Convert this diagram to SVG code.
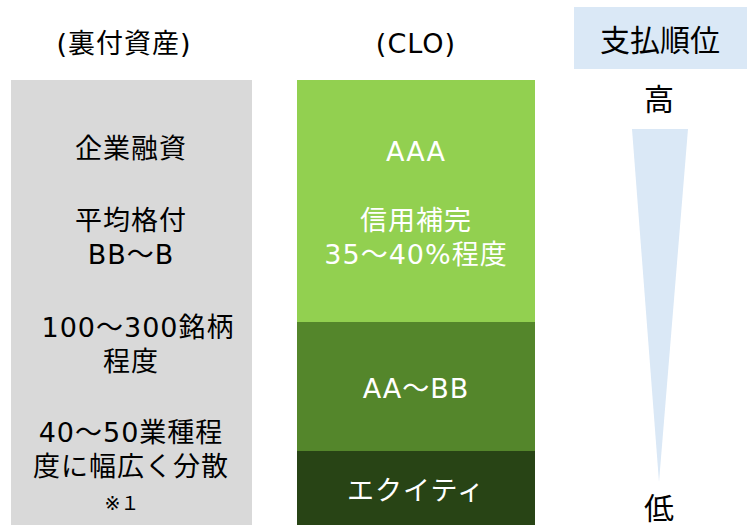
<svg xmlns="http://www.w3.org/2000/svg" width="747" height="525" viewBox="0 0 747 525">
<style>
text{font-family:"DejaVu Sans","Noto Sans CJK JP",sans-serif;text-anchor:middle;dominant-baseline:central}
.k{fill:#000;font-size:27px;letter-spacing:1px}
.w{fill:#fff;font-size:27px;letter-spacing:1px}
.s{fill:#000;font-size:19px}
.b{fill:#000;font-size:30px}
</style>
<rect width="747" height="525" fill="#fff"/>
<g id="assets">
<text class="k" x="124" y="43">(裏付資産)</text>
<rect x="11" y="80" width="241" height="445" fill="#D9D9D9"/>
<text class="k" x="131" y="148">企業融資</text>
<text class="k" x="131" y="220">平均格付</text>
<text class="k" x="131" y="254">BB～B</text>
<text class="k" x="138" y="327">100～300銘柄</text>
<text class="k" x="131" y="361">程度</text>
<text class="k" x="131" y="432">40～50業種程</text>
<text class="k" x="131" y="466">度に幅広く分散</text>
<text class="s" x="122" y="503">※１</text>
</g>
<g id="clo">
<text class="k" x="416" y="43">(CLO)</text>
<rect x="297" y="80" width="238" height="242" fill="#92D050"/>
<text class="w" x="416" y="151">AAA</text>
<text class="w" x="416" y="220">信用補完</text>
<text class="w" x="416" y="254">35～40%程度</text>
<rect x="297" y="322" width="238" height="129" fill="#54862B"/>
<text class="w" x="416" y="388">AA～BB</text>
<rect x="297" y="451" width="238" height="74" fill="#284415"/>
<text class="w" x="416" y="490">エクイティ</text>
</g>
<g id="priority">
<rect x="574" y="7" width="173" height="62" fill="#DAE8F6"/>
<text class="b" x="660" y="40">支払順位</text>
<text class="b" x="659" y="99">高</text>
<polygon points="632,129 688,129 659,482" fill="#DAE8F6"/>
<text class="b" x="659" y="508">低</text>
</g>
<g id="connectors"/>
</svg>
